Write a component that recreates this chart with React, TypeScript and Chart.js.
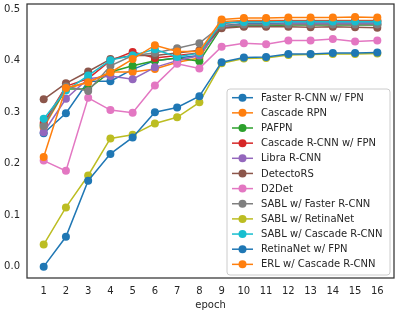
import React, { useEffect, useRef } from "react";
import { Chart, registerables } from "chart.js";

Chart.register(...registerables);

const epochs = [1, 2, 3, 4, 5, 6, 7, 8, 9, 10, 11, 12, 13, 14, 15, 16];
const yTicks = [0, 0.1, 0.2, 0.3, 0.4, 0.5];

const seriesNames = [
  "Faster R-CNN w/ FPN",
  "Cascade RPN",
  "PAFPN",
  "Cascade R-CNN w/ FPN",
  "Libra R-CNN",
  "DetectoRS",
  "D2Det",
  "SABL w/ Faster R-CNN",
  "SABL w/ RetinaNet",
  "SABL w/ Cascade R-CNN",
  "RetinaNet w/ FPN",
  "ERL w/ Cascade R-CNN",
];

const fasterRcnn = [0.259, 0.298, 0.36, 0.36, 0.383, 0.4, 0.405, 0.41, 0.468, 0.472, 0.472, 0.473, 0.473, 0.473, 0.473, 0.473];
const cascadeRpn = [0.27, 0.345, 0.358, 0.378, 0.378, 0.384, 0.397, 0.405, 0.476, 0.478, 0.478, 0.478, 0.478, 0.478, 0.478, 0.478];
const pafpn = [0.275, 0.345, 0.345, 0.378, 0.39, 0.4, 0.405, 0.399, 0.465, 0.468, 0.468, 0.469, 0.469, 0.469, 0.469, 0.469];
const cascadeRcnn = [0.279, 0.35, 0.365, 0.4, 0.417, 0.405, 0.41, 0.415, 0.472, 0.476, 0.476, 0.477, 0.477, 0.477, 0.477, 0.477];
const libraRcnn = [0.261, 0.326, 0.365, 0.37, 0.364, 0.387, 0.4, 0.41, 0.466, 0.47, 0.47, 0.471, 0.471, 0.471, 0.471, 0.471];
const detectoRS = [0.325, 0.356, 0.379, 0.403, 0.41, 0.41, 0.415, 0.42, 0.463, 0.466, 0.466, 0.466, 0.465, 0.466, 0.465, 0.464];
const d2det = [0.206, 0.186, 0.328, 0.304, 0.299, 0.352, 0.394, 0.385, 0.427, 0.434, 0.432, 0.439, 0.439, 0.442, 0.437, 0.439];
const sablFaster = [0.273, 0.35, 0.341, 0.39, 0.41, 0.415, 0.424, 0.434, 0.468, 0.47, 0.47, 0.47, 0.47, 0.47, 0.47, 0.47];
const sablRetina = [0.043, 0.115, 0.177, 0.249, 0.256, 0.278, 0.29, 0.319, 0.395, 0.404, 0.405, 0.411, 0.412, 0.413, 0.413, 0.414];
const sablCascade = [0.287, 0.342, 0.371, 0.401, 0.41, 0.422, 0.407, 0.415, 0.473, 0.475, 0.475, 0.476, 0.476, 0.476, 0.476, 0.476];
const retinaNet = [0.0, 0.058, 0.167, 0.219, 0.251, 0.3, 0.309, 0.331, 0.397, 0.406, 0.407, 0.413, 0.413, 0.415, 0.415, 0.416];
const erlCascade = [0.213, 0.347, 0.358, 0.377, 0.403, 0.43, 0.418, 0.418, 0.48, 0.483, 0.483, 0.484, 0.484, 0.484, 0.485, 0.484];

const seriesValues = [
  fasterRcnn, cascadeRpn, pafpn, cascadeRcnn, libraRcnn, detectoRS,
  d2det, sablFaster, sablRetina, sablCascade, retinaNet, erlCascade,
];

const colors = [
  "#1f77b4", "#ff7f0e", "#2ca02c", "#d62728", "#9467bd", "#8c564b",
  "#e377c2", "#7f7f7f", "#bcbd22", "#17becf", "#1f77b4", "#ff7f0e",
];

const FONT = "'DejaVu Sans', sans-serif";
const TEXT = "#262626";

const framePlugin = {
  id: "frameAndLegend",
  afterDraw(chart: any) {
    const { ctx, chartArea } = chart;
    ctx.save();
    ctx.strokeStyle = "#333333";
    ctx.lineWidth = 1.25;
    ctx.strokeRect(chartArea.left, chartArea.top, chartArea.right - chartArea.left, chartArea.bottom - chartArea.top);

    // legend
    const bx = 227, by = 89, bw = 163, bh = 186, r = 3;
    ctx.beginPath();
    ctx.moveTo(bx + r, by);
    ctx.lineTo(bx + bw - r, by);
    ctx.quadraticCurveTo(bx + bw, by, bx + bw, by + r);
    ctx.lineTo(bx + bw, by + bh - r);
    ctx.quadraticCurveTo(bx + bw, by + bh, bx + bw - r, by + bh);
    ctx.lineTo(bx + r, by + bh);
    ctx.quadraticCurveTo(bx, by + bh, bx, by + bh - r);
    ctx.lineTo(bx, by + r);
    ctx.quadraticCurveTo(bx, by, bx + r, by);
    ctx.closePath();
    ctx.fillStyle = "rgba(255,255,255,0.8)";
    ctx.fill();
    ctx.strokeStyle = "#cccccc";
    ctx.lineWidth = 1;
    ctx.stroke();

    ctx.font = `10px ${FONT}`;
    ctx.textBaseline = "middle";
    ctx.textAlign = "left";
    seriesNames.forEach((name, i) => {
      const y = 97.7 + i * 15.15;
      ctx.strokeStyle = colors[i];
      ctx.lineWidth = 1.5;
      ctx.beginPath();
      ctx.moveTo(232, y);
      ctx.lineTo(253, y);
      ctx.stroke();
      ctx.fillStyle = colors[i];
      ctx.beginPath();
      ctx.arc(242.5, y, 4, 0, Math.PI * 2);
      ctx.fill();
      ctx.fillStyle = TEXT;
      ctx.fillText(name, 261, y + 0.5);
    });
    ctx.restore();
  },
};

function App() {
  const ref = useRef<HTMLCanvasElement | null>(null);
  useEffect(() => {
    if (!ref.current) return;
    const n = seriesValues.length;
    const chart = new Chart(ref.current, {
      type: "line",
      data: {
        datasets: seriesValues.map((vals, i) => ({
          label: seriesNames[i],
          data: epochs.map((e, j) => ({ x: e, y: vals[j] })),
          borderColor: colors[i],
          backgroundColor: colors[i],
          pointBackgroundColor: colors[i],
          pointBorderWidth: 0,
          pointRadius: 4,
          borderWidth: 1.5,
          tension: 0,
          fill: false,
          order: n - i,
        })),
      },
      options: {
        animation: false,
        responsive: false,
        maintainAspectRatio: false,
        layout: { padding: { top: 4, right: 3, left: 0, bottom: 0 } },
        plugins: { legend: { display: false }, tooltip: { enabled: false } },
        scales: {
          x: {
            type: "linear",
            min: 0.25,
            max: 16.75,
            grid: { display: false, drawTicks: false },
            border: { display: false },
            afterBuildTicks: (s: any) => { s.ticks = epochs.map((v) => ({ value: v })); },
            afterFit: (s: any) => {
              s.height = 35;
              s.paddingLeft = 0;
              s.paddingRight = 0;
              s.paddingTop = 0;
              s.paddingBottom = 0;
            },
            ticks: {
              padding: 7,
              autoSkip: false,
              maxRotation: 0,
              color: TEXT,
              font: { family: FONT, size: 10 },
              callback: (v: any) => String(v),
            },
            title: {
              display: true,
              text: "epoch",
              color: TEXT,
              font: { family: FONT, size: 10 },
              padding: { top: 0, bottom: 2 },
            },
          },
          y: {
            type: "linear",
            min: -0.022,
            max: 0.51,
            grid: { display: false, drawTicks: false },
            border: { display: false },
            afterBuildTicks: (s: any) => { s.ticks = yTicks.map((v) => ({ value: v })); },
            afterFit: (s: any) => {
              s.width = 27;
              s.paddingTop = 0;
              s.paddingBottom = 0;
              s.paddingLeft = 0;
              s.paddingRight = 0;
            },
            ticks: {
              padding: 7,
              color: TEXT,
              font: { family: FONT, size: 10 },
              callback: (v: any) => Number(v).toFixed(1),
            },
          },
        },
      },
      plugins: [framePlugin],
    });
    return () => chart.destroy();
  }, []);
  return (
    <div style={{ position: "fixed", left: 0, top: 0, width: 398, height: 313, background: "#fff" }}>
      <canvas ref={ref} width={398} height={313} style={{ width: 398, height: 313, display: "block" }} />
    </div>
  );
}

export default App;
